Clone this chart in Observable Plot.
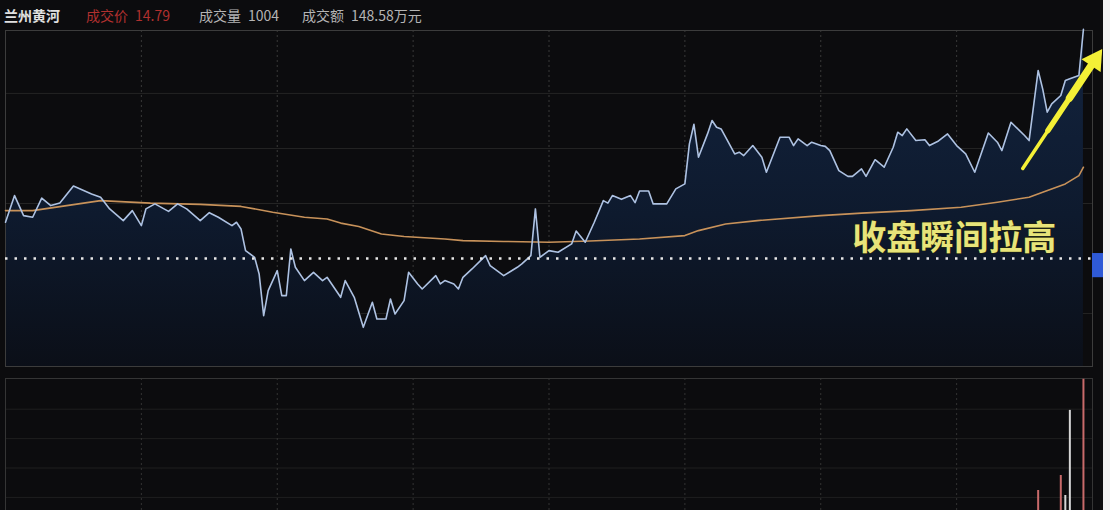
<!DOCTYPE html>
<html>
<head>
<meta charset="utf-8">
<script src="https://cdn.jsdelivr.net/npm/d3@7"></script>
<script src="https://cdn.jsdelivr.net/npm/@observablehq/plot@0.6"></script>
<style>
  html, body { margin: 0; padding: 0; background: #f2f2f2; }
  #wrap { position: relative; width: 1103px; height: 510px; background: #0c0c0e; overflow: hidden;
          font-family: "Noto Sans CJK SC", "Noto Sans", sans-serif; }
  #hdr { position: absolute; left: 0; top: 0; width: 1103px; height: 30px; }
  #hdr span { position: absolute; top: 5px; font-size: 14px; line-height: 20px; white-space: nowrap; }
  #price { position: absolute; left: 0; top: 30px; }
  #vol { position: absolute; left: 0; top: 370px; }
</style>
</head>
<body>
<div id="wrap">
  <div id="hdr"></div>
  <div id="price"></div>
  <div id="vol"></div>
</div>
<script>
// ---------- data ----------
const stockName = "兰州黄河";
const headerLabels = ["成交价", "成交量", "成交额"];
const headerValues = ["14.79", "1004", "148.58万元"];

const prevClose = 14.24;

// intraday price (minute index from 9:30, 0..240)
const priceMinutes = [0,2,4,6,8,10,12,15,19,21,23,26,28,30,31,33,36,38,40,43,45,47,50,51,52,53,55,56,57,58,
  60,61,62,63,64,66,68,70,71,74,75,77,79,81,82,84,85,86,88,89,91,92,95,96,97,99,100,101,103,106,107,110,113,114,
  116,117,118,120,122,125,126,128,130,132,133,134,136,138,139,140,142,143,146,148,150,151,152,153,155,156,157,158,
  161,162,163,165,167,168,171,173,174,175,177,178,180,181,182,184,186,187,189,190,192,194,196,197,198,199,201,203,
  204,206,208,210,212,214,217,219,220,222,225,226,228,229,230,231,233,234,235,237,238];
const priceValues = [14.327,14.391,14.343,14.339,14.385,14.367,14.373,14.414,14.395,14.387,14.359,14.331,14.355,
  14.319,14.359,14.371,14.353,14.371,14.359,14.331,14.350,14.339,14.319,14.327,14.311,14.259,14.243,14.203,14.103,
  14.163,14.211,14.151,14.151,14.263,14.219,14.187,14.207,14.187,14.195,14.147,14.187,14.147,14.075,14.135,14.095,
  14.095,14.143,14.107,14.139,14.207,14.179,14.167,14.199,14.179,14.187,14.179,14.167,14.195,14.215,14.247,14.223,
  14.199,14.219,14.227,14.247,14.359,14.243,14.259,14.255,14.275,14.306,14.279,14.327,14.379,14.373,14.391,14.382,
  14.391,14.374,14.402,14.402,14.371,14.371,14.407,14.419,14.515,14.562,14.483,14.539,14.571,14.555,14.551,14.491,
  14.495,14.487,14.511,14.483,14.447,14.531,14.531,14.511,14.527,14.511,14.519,14.511,14.509,14.499,14.451,14.437,
  14.437,14.455,14.437,14.477,14.459,14.507,14.543,14.535,14.551,14.523,14.525,14.511,14.522,14.539,14.511,14.491,
  14.447,14.541,14.519,14.499,14.567,14.535,14.523,14.691,14.647,14.591,14.611,14.631,14.667,14.671,14.679,14.790];

// average price line
const avgMinutes = [0,6,21,32,43,52,59,66,71,74,78,83,88,97,101,110,120,129,140,150,153,159,166,180,189,200,211,219,226,229,234,237,238];
const avgValues = [14.355,14.355,14.379,14.373,14.370,14.365,14.351,14.339,14.335,14.325,14.317,14.299,14.293,14.287,
  14.283,14.281,14.279,14.282,14.287,14.295,14.307,14.323,14.331,14.343,14.349,14.355,14.363,14.375,14.387,14.399,
  14.419,14.439,14.459];

// volume (手)
const volMinutes = [228, 233, 234, 235, 238];
const volValues = [153, 268, 115, 766, 1004];
const volDir = ["up", "up", "flat", "flat", "up"];

// axes / grid
const timeTicks = [30, 60, 90, 120, 150, 180, 210];
const priceGrid = [14.108, 14.372, 14.504, 14.636];
const volGrid = [100, 325, 550, 775];

// annotation
const noteText = ["收盘瞬间拉高"];
const noteAt = [209.5, 14.287];
const arrowTail = [224.6, 14.456];
const arrowHead = [240.5, 14.716];

// ---------- build ----------
const price = priceMinutes.map((m, i) => ({minute: m, price: priceValues[i]}));
const avg = avgMinutes.map((m, i) => ({minute: m, price: avgValues[i]}));
const vol = volMinutes.map((m, i) => ({minute: m, vol: volValues[i], dir: volDir[i]}));

const W = 1103;
const yDomain = [13.981, 14.787];

// header
const hdr = document.getElementById("hdr");
const hdrItems = [
  {text: stockName, left: 4, color: "#e0e0e0", weight: 700},
  {text: headerLabels[0] + "\u2002" + headerValues[0], left: 86, color: "#b0302e", weight: 400},
  {text: headerLabels[1] + "\u2002" + headerValues[1], left: 199, color: "#b4b4b4", weight: 400},
  {text: headerLabels[2] + "\u2002" + headerValues[2], left: 302, color: "#b4b4b4", weight: 400}
];
for (const h of hdrItems) {
  const s = document.createElement("span");
  s.textContent = h.text;
  s.style.left = h.left + "px";
  s.style.color = h.color;
  s.style.fontWeight = h.weight;
  hdr.appendChild(s);
}

// arrow shaft pieces (tapering toward the tail)
const lerp = (t) => [arrowTail[0] + (arrowHead[0] - arrowTail[0]) * t, arrowTail[1] + (arrowHead[1] - arrowTail[1]) * t];
const shaft = [
  {a: lerp(0), b: lerp(0.45), w: 3.5},
  {a: lerp(0.35), b: lerp(0.75), w: 5.5},
  {a: lerp(0.65), b: lerp(1), w: 7.5}
];

const gradientDefs = () => {
  const defs = document.createElementNS("http://www.w3.org/2000/svg", "defs");
  defs.innerHTML = '<linearGradient id="pfill" x1="0" y1="0" x2="0" y2="1">' +
    '<stop offset="0" stop-color="#13243f"/><stop offset="0.55" stop-color="#0e1a2e"/>' +
    '<stop offset="1" stop-color="#0b0f18"/></linearGradient>';
  return defs;
};

const priceChart = Plot.plot({
  width: W, height: 340,
  marginLeft: 5, marginRight: 11, marginTop: 0, marginBottom: 4,
  style: {background: "transparent", overflow: "visible"},
  x: {domain: [0, 240], axis: null},
  y: {domain: yDomain, axis: null},
  marks: [
    gradientDefs,
    Plot.ruleY(priceGrid, {stroke: "#242424", strokeWidth: 1}),
    Plot.ruleX(timeTicks, {stroke: "#383838", strokeDasharray: "2,3"}),
    Plot.areaY(price, {x: "minute", y1: yDomain[0], y2: "price", fill: "url(#pfill)"}),
    Plot.frame({stroke: "#3c3c3c"}),
    Plot.line(avg, {x: "minute", y: "price", stroke: "#c8925a", strokeWidth: 1.6}),
    Plot.line(price, {x: "minute", y: "price", stroke: "#aec2e2", strokeWidth: 1.6}),
    Plot.ruleY([prevClose], {stroke: "#e8e8e8", strokeWidth: 2.5, strokeDasharray: "2.5,7"}),
    Plot.rect([0], {x1: 240, x2: 243, y1: prevClose - 0.046, y2: prevClose + 0.012, fill: "#2f5ad6", clip: false}),
    Plot.text(noteText, {x: noteAt[0], y: noteAt[1], text: d => d, fill: "#e8e47a",
      fontSize: 34, fontWeight: "bold", fontFamily: "Noto Sans CJK SC", textAnchor: "middle",
      stroke: "#2a2a08", strokeWidth: 1}),
    Plot.link(shaft, {x1: d => d.a[0], y1: d => d.a[1], x2: d => d.b[0], y2: d => d.b[1],
      stroke: "#f4f036", strokeWidth: d => d.w, strokeLinecap: "round", clip: false}),
    Plot.dot([0], {x: arrowHead[0], y: arrowHead[1], symbol: "triangle2", r: 11, rotate: 34,
      fill: "#f4f036", stroke: "none", clip: false})
  ]
});
document.getElementById("price").appendChild(priceChart);

const volChart = Plot.plot({
  width: W, height: 140,
  marginLeft: 5, marginRight: 11, marginTop: 8, marginBottom: 0,
  style: {background: "transparent", overflow: "visible"},
  x: {domain: [0, 240], axis: null},
  y: {domain: [0, 1010], axis: null},
  color: {domain: ["up", "flat"], range: ["#c86a6a", "#d6d6d6"]},
  marks: [
    Plot.ruleY(volGrid, {stroke: "#1f1f1f"}),
    Plot.ruleX(timeTicks, {stroke: "#333", strokeDasharray: "2,3"}),
    Plot.frame({stroke: "#353535"}),
    Plot.ruleX(vol, {x: "minute", y: "vol", stroke: "dir", strokeWidth: 2})
  ]
});
document.getElementById("vol").appendChild(volChart);
</script>
</body>
</html>
